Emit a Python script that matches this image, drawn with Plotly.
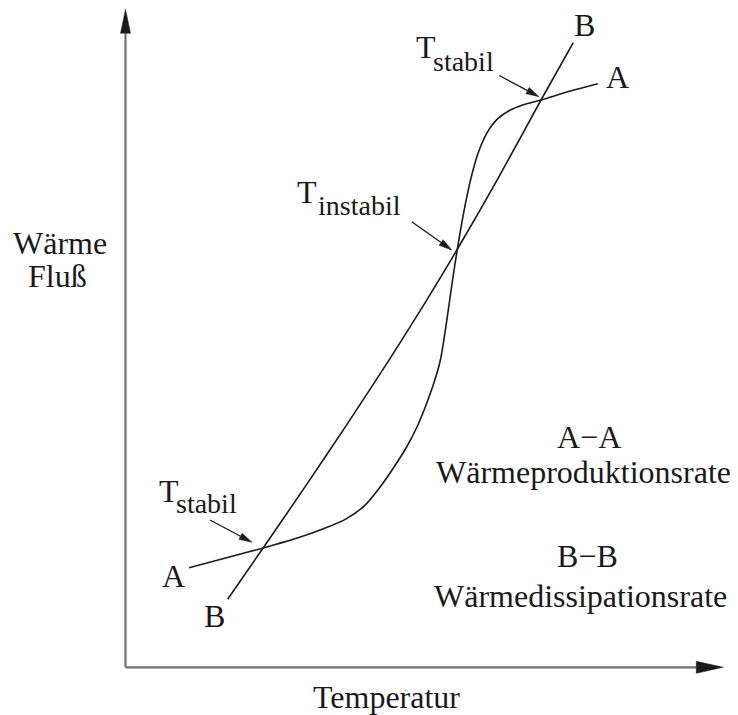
import numpy as np
import plotly.graph_objects as go

# Kurve A-A: Wärmeproduktionsrate (S-Kurve)
a_temp = [1.06, 1.70, 2.30, 2.85, 3.30, 3.67, 3.98, 4.24, 4.47, 4.69, 4.87, 5.02, 5.15, 5.25, 5.35,
          5.44, 5.53, 5.60, 5.68, 5.77, 5.88, 6.02, 6.20, 6.40, 6.62, 6.925, 7.40, 7.872]
a_flux = [1.66, 1.83, 1.99, 2.15, 2.31, 2.47, 2.69, 3.00, 3.33, 3.68, 4.03, 4.40, 4.77, 5.13, 5.75,
          6.38, 6.967, 7.38, 7.80, 8.20, 8.58, 8.90, 9.14, 9.28, 9.37, 9.455, 9.60, 9.727]

# Kurve B-B: Wärmedissipationsrate (fast gerade)
b_temp = [1.703, 2.297, 3.0, 3.7, 4.4, 5.0, 5.53, 6.2, 6.925, 7.463]
b_flux = [1.133, 1.993, 3.019, 4.062, 5.133, 6.087, 6.967, 8.133, 9.455, 10.41]

# Pfeile auf die Schnittpunkte: (Start, Spitze)
pointer_tails = [(1.408, 2.455), (4.770, 7.427), (6.230, 9.863)]
pointer_tips = [(2.108, 2.083), (5.437, 6.955), (6.892, 9.510)]

# Achsenenden
x_axis_end = 9.963
y_axis_end = 10.967

FONT = "Liberation Serif, Times New Roman, serif"
INK = "#1a1a1a"
PX = 60.0          # Pixel pro Einheit
W, H = 730, 707    # Seite hat 8px Rand
X0, Y0 = 117.5, 659.3  # Ursprung in Figure-Pixeln


def add_arrow(fig, tail, tip, head_len, head_w, color, width):
    """Linie mit gefüllter Dreiecksspitze."""
    t = np.array(tail, dtype=float)
    p = np.array(tip, dtype=float)
    u = (p - t) / np.linalg.norm(p - t)
    n = np.array([-u[1], u[0]])
    base = p - head_len * u
    fig.add_trace(go.Scatter(x=[t[0], base[0]], y=[t[1], base[1]], mode="lines",
                             line=dict(color=color, width=width), hoverinfo="skip"))
    tri = [p, base + n * head_w / 2, base - n * head_w / 2, p]
    fig.add_trace(go.Scatter(x=[q[0] for q in tri], y=[q[1] for q in tri], mode="lines",
                             fill="toself", fillcolor=INK, line=dict(color=INK, width=0.5),
                             hoverinfo="skip"))


fig = go.Figure()

# Achsen
add_arrow(fig, (0, 0), (0, y_axis_end), 24 / PX, 10 / PX, "#707070", 2.2)
add_arrow(fig, (0, 0), (x_axis_end, 0), 27 / PX, 12 / PX, "#707070", 2.2)

fig.add_trace(go.Scatter(x=a_temp, y=a_flux, mode="lines",
                         line=dict(color=INK, width=1.6, shape="spline", smoothing=0.8),
                         hoverinfo="skip"))
fig.add_trace(go.Scatter(x=b_temp, y=b_flux, mode="lines",
                         line=dict(color=INK, width=1.6, shape="spline", smoothing=0.8),
                         hoverinfo="skip"))

for tail, tip in zip(pointer_tails, pointer_tips):
    add_arrow(fig, tail, tip, 13 / PX, 7 / PX, INK, 1.3)


def label(text, x, y, size=32):
    fig.add_annotation(x=x, y=y, text=text, showarrow=False, xanchor="center", yanchor="middle",
                       font=dict(family=FONT, size=size, color=INK))


label("Wärme", -1.092, 7.08)
label("Fluß", -1.133, 6.515)
label("Temperatur", 4.358, -0.495)
label("A\u2212A", 7.725, 3.838)
label("Wärmeproduktionsrate", 7.625, 3.255)
label("B\u2212B", 7.70, 1.855)
label("Wärmedissipationsrate", 7.575, 1.19)
label("B", 7.642, 10.705)
label("A", 8.20, 9.838)
label("A", 0.808, 1.522)
label("B", 1.483, 0.847)

# T-Beschriftungen mit tiefgestelltem Index
label("T", 5.008, 10.345)
label("stabil", 5.633, 10.095, 28)
label("T", 0.725, 2.935)
label("stabil", 1.35, 2.725, 28)
label("T", 3.017, 7.92)
label("instabil", 3.908, 7.69, 28)

fig.update_layout(
    width=W, height=H,
    margin=dict(l=0, r=0, t=0, b=0),
    paper_bgcolor="white", plot_bgcolor="white",
    showlegend=False,
    xaxis=dict(range=[-X0 / PX, (W - X0) / PX], visible=False, fixedrange=True),
    yaxis=dict(range=[(Y0 - H) / PX, Y0 / PX], visible=False, fixedrange=True),
)

fig.write_html("out.html")
